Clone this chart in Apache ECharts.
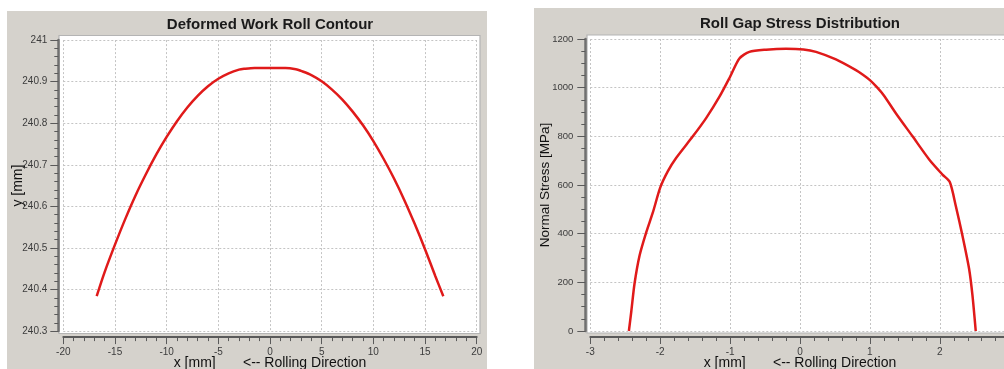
<!DOCTYPE html>
<html>
<head>
<meta charset="utf-8">
<script src="https://cdn.jsdelivr.net/npm/echarts@6/dist/echarts.min.js"></script>
<style>
  html, body { margin: 0; padding: 0; background: #ffffff; overflow: hidden; }
  #chart { width: 1004px; height: 369px; }
</style>
</head>
<body>
<div id="chart"></div>
<script>
// ---- Left chart: Deformed Work Roll Contour ----
var rollTitle = 'Deformed Work Roll Contour';
var rollX = [-16.77, -16, -15, -14, -13, -12, -11, -10, -9, -8, -7, -6, -5, -4, -3, -2.5, -1.5, 0, 1.5, 2.5, 3, 4, 5, 6, 7, 8, 9, 10, 11, 12, 13, 14, 15, 16, 16.77];
var rollY = [240.384, 240.442, 240.508, 240.570, 240.627, 240.678, 240.725, 240.767, 240.805, 240.838, 240.866, 240.889, 240.907, 240.920, 240.929, 240.931, 240.933, 240.933, 240.933, 240.930, 240.926, 240.916, 240.901, 240.881, 240.857, 240.828, 240.795, 240.757, 240.714, 240.667, 240.615, 240.558, 240.497, 240.432, 240.384];
var rollXTicks = [-20, -15, -10, -5, 0, 5, 10, 15, 20];
var rollYTicks = [240.3, 240.4, 240.5, 240.6, 240.7, 240.8, 240.9, 241];
var rollXName = 'x [mm]       <-- Rolling Direction';
var rollYName = 'y [mm]';

// ---- Right chart: Roll Gap Stress Distribution ----
var stressTitle = 'Roll Gap Stress Distribution';
var stressX = [-2.448, -2.414, -2.367, -2.295, -2.2, -2.105, -2.0, -1.89, -1.77, -1.533, -1.343, -1.152, -1.0, -0.867, -0.724, -0.486, -0.2, 0.05, 0.229, 0.514, 0.8, 0.9, 1.0, 1.1, 1.2, 1.371, 1.61, 1.848, 2.038, 2.143, 2.229, 2.324, 2.419, 2.467, 2.514];
var stressY = [0, 79, 195, 310, 405, 487, 589, 657, 712, 800, 875, 963, 1045, 1120, 1147, 1156, 1160, 1157, 1147, 1116, 1072, 1053, 1031, 1002, 968, 895, 800, 705, 643, 612, 514, 392, 256, 147, 0];
var stressXTicks = [-3, -2, -1, 0, 1, 2, 3];
var stressYTicks = [0, 200, 400, 600, 800, 1000, 1200];
var stressXName = 'x [mm]       <-- Rolling Direction';
var stressYName = 'Normal Stress [MPa]';

function pairs(xs, ys) { return xs.map(function (x, i) { return [x, ys[i]]; }); }
function tickInfo(t) { return { min: t[0], max: t[t.length - 1], interval: +(t[1] - t[0]).toFixed(6) }; }
function plainLabel(v) { return String(+v.toFixed(6)); }

var FONT = 'Liberation Sans';
var AXIS_COLOR = '#5a5a5a';
var LABEL_COLOR = '#3c3c3c';
var PANEL = '#d5d2cc';

function makeX(idx, ticks, name, minorSplit) {
  var t = tickInfo(ticks);
  return {
    type: 'value', gridIndex: idx, min: t.min, max: t.max, interval: t.interval,
    offset: 6,
    name: name, nameLocation: 'middle', nameGap: 19, nameMoveOverlap: false,
    nameTextStyle: { fontFamily: FONT, fontSize: 14, color: '#111' },
    axisLine: { show: true, onZero: false, lineStyle: { color: AXIS_COLOR, width: 2 } },
    axisTick: { show: true, length: 7, lineStyle: { color: AXIS_COLOR, width: 1 } },
    minorTick: { show: true, splitNumber: minorSplit, length: 4, lineStyle: { color: AXIS_COLOR, width: 1 } },
    axisLabel: { margin: 10, fontFamily: FONT, fontSize: 10, color: LABEL_COLOR, formatter: plainLabel },
    splitLine: { show: true, lineStyle: { color: '#c4c4c4', type: [2, 2], width: 1 } }
  };
}
function makeY(idx, ticks, name, minorSplit, gap, margin, fs, nfs) {
  var t = tickInfo(ticks);
  return {
    type: 'value', gridIndex: idx, min: t.min, max: t.max, interval: t.interval,
    offset: 5,
    name: name, nameLocation: 'middle', nameGap: gap, nameMoveOverlap: false,
    nameTextStyle: { fontFamily: FONT, fontSize: nfs, color: '#111' },
    axisLine: { show: true, onZero: false, lineStyle: { color: '#707070', width: 2.5 } },
    axisTick: { show: true, length: 8, lineStyle: { color: AXIS_COLOR, width: 1 } },
    minorTick: { show: true, splitNumber: minorSplit, length: 4, lineStyle: { color: AXIS_COLOR, width: 1 } },
    axisLabel: { margin: margin, fontFamily: FONT, fontSize: fs, color: LABEL_COLOR, formatter: plainLabel },
    splitLine: { show: true, lineStyle: { color: '#c4c4c4', type: [2, 2], width: 1 } }
  };
}

var chart = echarts.init(document.getElementById('chart'), null, { renderer: 'canvas' });
chart.setOption({
  backgroundColor: '#ffffff',
  animation: false,
  graphic: [
    { type: 'rect', z: -20, shape: { x: 7, y: 11, width: 480, height: 360 }, style: { fill: PANEL } },
    { type: 'rect', z: -20, shape: { x: 534, y: 8, width: 480, height: 365 }, style: { fill: PANEL } },
    { type: 'rect', z: -19, shape: { x: 59, y: 35.5, width: 421, height: 298 }, style: { fill: '#ffffff', stroke: '#b4b4b4', lineWidth: 1.2 } },
    { type: 'rect', z: -19, shape: { x: 587, y: 35, width: 430, height: 298 }, style: { fill: '#ffffff', stroke: '#b4b4b4', lineWidth: 1.2 } }
  ],
  title: [
    { text: rollTitle, left: 270, top: 17.5, textAlign: 'center', padding: 0,
      textStyle: { fontFamily: FONT, fontSize: 15, fontWeight: 'bold', color: '#1a1a1a' } },
    { text: stressTitle, left: 800, top: 16.5, textAlign: 'center', padding: 0,
      textStyle: { fontFamily: FONT, fontSize: 15, fontWeight: 'bold', color: '#1a1a1a' } }
  ],
  grid: [
    { left: 63.3, top: 40.1, width: 413.4, height: 291, containLabel: false, outerBoundsMode: 'none' },
    { left: 590.3, top: 39, width: 419.4, height: 292, containLabel: false, outerBoundsMode: 'none' }
  ],
  xAxis: [
    makeX(0, rollXTicks, rollXName, 5),
    makeX(1, stressXTicks, stressXName, 5)
  ],
  yAxis: [
    makeY(0, rollYTicks, rollYName, 5, 33, 11, 10, 14),
    makeY(1, stressYTicks, stressYName, 4, 33, 12, 9.5, 13.5)
  ],
  series: [
    { type: 'line', xAxisIndex: 0, yAxisIndex: 0, data: pairs(rollX, rollY),
      showSymbol: false, smooth: 0.3,
      lineStyle: { color: '#e01a1a', width: 2.5 }, itemStyle: { color: '#e01a1a' } },
    { type: 'line', xAxisIndex: 1, yAxisIndex: 1, data: pairs(stressX, stressY),
      showSymbol: false, smooth: 0.25,
      lineStyle: { color: '#e01a1a', width: 2.5 }, itemStyle: { color: '#e01a1a' } }
  ]
});
</script>
</body>
</html>
